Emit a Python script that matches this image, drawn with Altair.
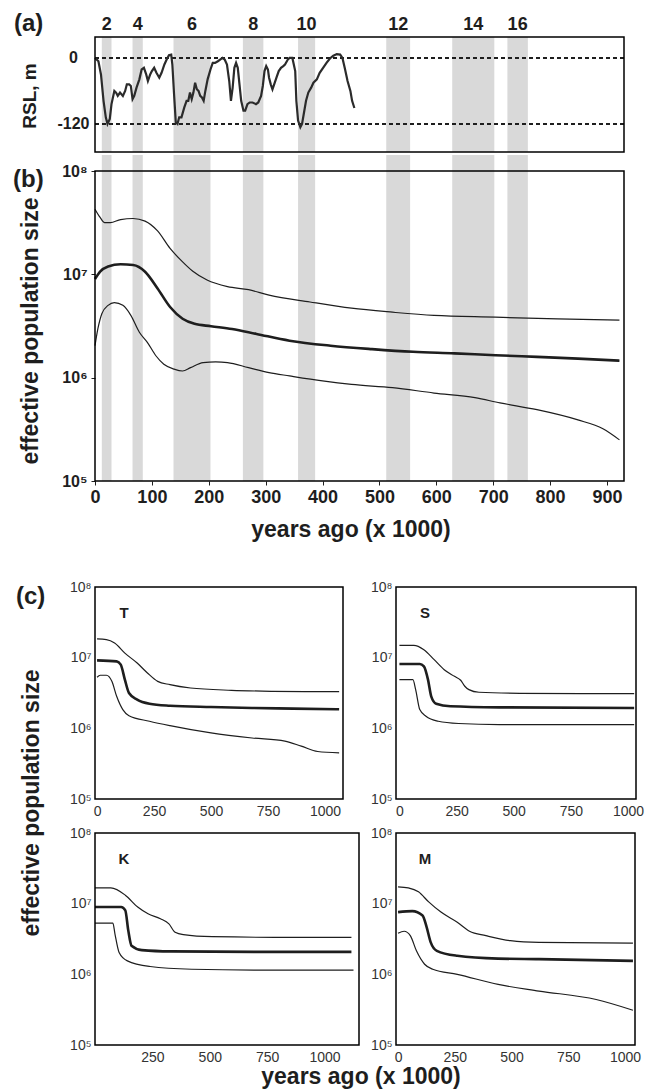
import altair as alt
import pandas as pd

# ---------------- data ----------------
band_start = [12, 66, 138, 260, 357, 512, 628, 725]
band_end = [29, 84, 203, 296, 387, 554, 702, 761]
stage_labels = ["2", "4", "6", "8", "10", "12", "14", "16"]

rsl_levels = [0, -120]
rsl_ka = [0, 6, 10.5, 15, 19, 22, 26, 29, 34, 37,
          40, 44, 49, 53, 56, 60, 63, 66, 69, 73,
          78, 82, 86, 90, 93, 97, 100, 104, 108, 113,
          117, 122, 126, 130, 134, 136, 139, 142, 145, 148,
          152, 157, 161, 164, 167, 170, 173, 176, 179, 182,
          185, 188, 191, 194, 198, 203, 207, 211, 216, 220,
          224, 228, 232, 236, 239, 242, 245, 248, 251, 254,
          257, 261, 264, 268, 272, 277, 283, 287, 292, 295,
          298, 301, 304, 306, 309, 312, 315, 319, 323, 327,
          331, 334, 339, 342, 347, 352, 354, 357, 361, 364,
          367, 371, 375, 380, 384, 390, 395, 401, 407, 413,
          419, 425, 431, 435, 439, 444, 449, 452, 456]
rsl_m = [0, -6, -30, -78, -108, -120, -111, -84, -60, -63,
         -69, -63, -69, -60, -48, -48, -51, -75, -69, -54,
         -39, -21, -18, -30, -42, -30, -24, -18, -27, -36,
         -27, -12, -3, 5, 6, -12, -66, -117, -120, -108,
         -108, -90, -78, -78, -63, -75, -63, -45, -57, -60,
         -69, -72, -78, -60, -39, -21, -9, -9, -6, -3,
         0, -3, -12, -42, -78, -54, -18, -9, -18, -48,
         -78, -96, -96, -84, -81, -81, -84, -81, -69, -51,
         -24, -15, -21, -36, -48, -57, -48, -36, -24, -18,
         -15, -12, -3, 0, 0, -24, -78, -114, -126, -120,
         -102, -78, -63, -54, -45, -39, -27, -18, -9, -1,
         4, 7, 6, 0, -18, -42, -60, -78, -91]

# panel (b): effective population size in millions
b_up_ka = [0, 9, 17, 27, 45, 67, 88, 110, 132, 154, 172, 197, 233, 270, 306, 378, 451, 523, 596, 704, 813, 922]
b_up_ne = [42.7, 35.5, 31.6, 31.6, 33.9, 34.7, 32.7, 26.3, 17.8, 13.2, 10.7, 8.8, 7.6, 7.1, 6.3, 5.4, 4.7, 4.3, 4.0, 3.85, 3.7, 3.6]
b_mid_ka = [0, 9, 23, 45, 67, 88, 110, 132, 154, 175, 204, 241, 284, 342, 414, 487, 559, 632, 704, 777, 849, 922]
b_mid_ne = [9.0, 10.6, 11.9, 12.5, 12.3, 10.6, 7.3, 4.83, 3.72, 3.32, 3.15, 2.96, 2.65, 2.28, 2.04, 1.89, 1.78, 1.72, 1.65, 1.59, 1.53, 1.46]
b_low_ka = [0, 5, 12, 23, 34, 49, 63, 78, 92, 107, 121, 139, 154, 168, 190, 212, 233, 270, 306, 342, 400, 451, 523, 596, 668, 712, 777, 849, 893, 922]
b_low_ne = [2.04, 2.96, 4.16, 5.01, 5.32, 5.01, 4.01, 2.75, 2.20, 1.63, 1.35, 1.21, 1.16, 1.25, 1.40, 1.42, 1.40, 1.25, 1.12, 1.04, 0.93, 0.86, 0.80, 0.71, 0.64, 0.57, 0.49, 0.39, 0.32, 0.25]

# panel (c)
t_up_ka = [0, 41, 77, 122, 176, 221, 266, 320, 410, 590, 770, 950, 1062]
t_up_ne = [18.4, 18.0, 16.1, 11.6, 8.4, 6.07, 4.62, 4.15, 3.72, 3.45, 3.34, 3.30, 3.30]
t_mid_ka = [0, 86, 104, 122, 140, 176, 230, 320, 500, 680, 860, 1062]
t_mid_ne = [9.16, 8.87, 7.96, 4.89, 3.16, 2.55, 2.23, 2.09, 2.00, 1.94, 1.90, 1.86]
t_low_ka = [0, 14, 41, 65, 86, 113, 140, 230, 320, 500, 680, 824, 896, 968, 1062]
t_low_ne = [5.28, 5.64, 5.64, 4.63, 2.84, 1.84, 1.51, 1.26, 1.09, 0.86, 0.73, 0.66, 0.56, 0.47, 0.45]

s_up_ka = [0, 63, 107, 152, 196, 241, 268, 286, 304, 348, 527, 795, 1027]
s_up_ne = [14.96, 14.96, 12.97, 9.38, 6.76, 5.44, 4.79, 3.94, 3.53, 3.24, 3.13, 3.10, 3.10]
s_mid_ka = [0, 89, 107, 125, 139, 161, 223, 437, 1027]
s_mid_ne = [8.15, 8.15, 7.55, 4.89, 2.84, 2.23, 2.05, 1.98, 1.94]
s_low_ka = [0, 59, 71, 89, 116, 170, 259, 437, 1027]
s_low_ne = [4.89, 4.89, 3.53, 1.84, 1.48, 1.26, 1.17, 1.13, 1.13]

k_up_ka = [0, 69, 132, 186, 231, 285, 322, 349, 385, 511, 782, 1117]
k_up_ne = [16.7, 16.7, 13.2, 8.95, 7.19, 6.11, 5.18, 3.94, 3.65, 3.41, 3.34, 3.34]
k_mid_ka = [0, 114, 132, 145, 159, 204, 331, 692, 1117]
k_mid_ne = [8.95, 8.95, 8.04, 4.16, 2.54, 2.20, 2.11, 2.08, 2.08]
k_low_ka = [0, 78, 87, 105, 141, 240, 421, 692, 1126]
k_low_ne = [5.30, 5.30, 3.72, 2.04, 1.55, 1.29, 1.18, 1.15, 1.15]

m_up_ka = [0, 45, 90, 135, 189, 261, 315, 387, 495, 621, 1035]
m_up_ne = [17.3, 16.7, 14.7, 10.6, 7.60, 5.47, 4.07, 3.53, 2.99, 2.83, 2.77]
m_mid_ka = [0, 63, 108, 126, 144, 171, 261, 441, 621, 1035]
m_mid_ne = [7.60, 7.85, 6.81, 4.65, 2.83, 2.15, 1.83, 1.67, 1.64, 1.55]
m_low_ka = [0, 27, 54, 81, 117, 153, 261, 441, 621, 873, 1035]
m_low_ne = [3.81, 4.07, 3.53, 2.15, 1.39, 1.18, 1.00, 0.72, 0.58, 0.44, 0.31]

b_ticks = [0, 100, 200, 300, 400, 500, 600, 700, 800, 900]
c_ticks_full = [0, 250, 500, 750, 1000]
c_ticks_k = [250, 500, 750, 1000]
ne_ticks = [1e5, 1e6, 1e7, 1e8]

# ---------------- styling ----------------
FONT = "Liberation Sans"
INK = "#1e1e1e"
BAND = "#d9d9d9"
THICK, THIN = 2.6, 1.2
LABEL_EXPR = "'10' + ['⁰','¹','²','³','⁴','⁵','⁶','⁷','⁸','⁹'][round(log(datum.value)/LN10)]"
ONE = alt.Data(values=[{}])


def series_df(parts):
    rows = []
    for name, xs, ys, w in parts:
        for x, y in zip(xs, ys):
            rows.append({"series": name, "ka": x, "ne": y * 1e6, "w": w})
    return pd.DataFrame(rows)


def text(t, x, y, size, weight="bold", angle=None, align="left", color=INK):
    kw = dict(text=t, font=FONT, fontSize=size, fontWeight=weight, color=color,
              align=align, baseline="middle")
    if angle is not None:
        kw["angle"] = angle
    return alt.Chart(ONE).mark_text(**kw).encode(x=alt.value(x), y=alt.value(y))


def frame(w, h):
    return alt.Chart(ONE).mark_rect(fillOpacity=0, stroke="black", strokeWidth=1.5).encode(
        x=alt.value(0), x2=alt.value(w), y=alt.value(0), y2=alt.value(h))


def spacer(x, y, x2=None, y2=None):
    enc = dict(x=alt.value(x), y=alt.value(y))
    if x2 is not None:
        enc["x2"] = alt.value(x2)
    if y2 is not None:
        enc["y2"] = alt.value(y2)
    return alt.Chart(ONE).mark_rule(color="white", strokeWidth=1).encode(**enc)


bands_df = pd.DataFrame({"start": band_start, "end": band_end, "stage": stage_labels})

# ---------------- panel (a) ----------------
WA, HA = 529, 115
xa = alt.Scale(domain=[0, 930], nice=False, zero=False)
ya = alt.Scale(domain=[-171, 38], nice=False, zero=False)
ya_axis = alt.Axis(values=rsl_levels, title=None, labelFont=FONT, labelFontWeight="bold",
                   labelFontSize=16, labelColor=INK, labelAlign="center", labelPadding=22,
                   labelExpr="toString(datum.value)",
                   tickSize=0, ticks=False, domain=False, grid=False)

a_bands = alt.Chart(bands_df).mark_rect(color=BAND).encode(
    x=alt.X("start:Q", scale=xa, axis=None), x2="end:Q",
    y=alt.value(0), y2=alt.value(HA))
a_levels = alt.Chart(pd.DataFrame({"level": rsl_levels})).mark_rule(
    color=INK, strokeWidth=2, strokeDash=[4, 3]).encode(
    y=alt.Y("level:Q", scale=ya, axis=ya_axis))
a_line = alt.Chart(pd.DataFrame({"ka": rsl_ka, "m": rsl_m})).mark_line(
    color="#2b2b2b", strokeWidth=2.2).encode(
    x=alt.X("ka:Q", scale=xa, axis=None),
    y=alt.Y("m:Q", scale=ya, axis=ya_axis))
a_stage = alt.Chart(bands_df).transform_calculate(
    mid="(datum.start + datum.end) / 2").mark_text(
    font=FONT, fontWeight="bold", fontSize=18, color=INK, baseline="middle").encode(
    x=alt.X("mid:Q", scale=xa, axis=None), y=alt.value(-12.5), text="stage:N")

panel_a = alt.layer(
    a_bands, a_levels, a_line, a_stage,
    text("(a)", -81, -13, 24),
    text("RSL, m", -65, 59, 19, angle=270, align="center"),
    spacer(-93, -36, y2=0),
    frame(WA, HA),
).properties(width=WA, height=HA)

# ---------------- panel (b) ----------------
WB, HB = 529, 310
xb = alt.Scale(domain=[0, 930], nice=False, zero=False)
yb = alt.Scale(type="log", domain=[1e5, 1e8], nice=False)
xb_axis = alt.Axis(values=b_ticks, title=None, labelFont=FONT, format="d",
                   labelFontWeight="bold", labelFontSize=18, labelColor=INK, tickSize=4,
                   tickColor=INK, labelPadding=3, domain=False, grid=False,
                   labelFlush=False, labelOverlap=False)
yb_axis = alt.Axis(values=ne_ticks, labelExpr=LABEL_EXPR, title=None, labelFont=FONT,
                   labelFontWeight="bold", labelFontSize=16, labelColor=INK, tickSize=4,
                   tickColor=INK, labelPadding=4, domain=False, grid=False,
                   labelOverlap=False)

b_df = series_df([("upper", b_up_ka, b_up_ne, THIN),
                  ("median", b_mid_ka, b_mid_ne, THICK),
                  ("lower", b_low_ka, b_low_ne, THIN)])

b_bands = alt.Chart(bands_df).mark_rect(color=BAND).encode(
    x=alt.X("start:Q", scale=xb, axis=xb_axis), x2="end:Q",
    y=alt.value(-16), y2=alt.value(HB))
b_lines = alt.Chart(b_df).mark_line(interpolate="monotone", color=INK).encode(
    x=alt.X("ka:Q", scale=xb, axis=xb_axis),
    y=alt.Y("ne:Q", scale=yb, axis=yb_axis),
    detail="series:N",
    strokeWidth=alt.StrokeWidth("w:Q", scale=None))

panel_b = alt.layer(
    b_bands, b_lines,
    text("(b)", -82, 8.5, 24),
    text("effective population size", -64, 160, 23, angle=270, align="center"),
    text("years ago (x 1000)", 256, 359, 23, align="center"),
    spacer(-94, 20, y2=30),
    spacer(0, 378, x2=10),
    frame(WB, HB),
).properties(width=WB, height=HB)

# ---------------- panel (c) ----------------
HC = 212


def sub_panel(letter, parts, width, xdomain, xticks, extra):
    df = series_df(parts)
    xs = alt.Scale(domain=xdomain, nice=False, zero=False)
    ys = alt.Scale(type="log", domain=[1e5, 1e8], nice=False)
    x_axis = alt.Axis(values=xticks, title=None, labelFont=FONT, labelFontSize=14, format="d",
                      labelColor="#333333", tickSize=0, ticks=False, labelPadding=5,
                      domain=False, grid=False, labelFlush=False, labelOverlap=False)
    y_axis = alt.Axis(values=ne_ticks, labelExpr=LABEL_EXPR, title=None, labelFont=FONT,
                      labelFontSize=14, labelColor="#333333", tickSize=0, ticks=False,
                      labelPadding=4, domain=False, grid=False, labelOverlap=False)
    lines = alt.Chart(df).mark_line(interpolate="monotone", color=INK).encode(
        x=alt.X("ka:Q", scale=xs, axis=x_axis),
        y=alt.Y("ne:Q", scale=ys, axis=y_axis),
        detail="series:N",
        strokeWidth=alt.StrokeWidth("w:Q", scale=None))
    return alt.layer(
        lines, text(letter, 29, 26, 15, align="center"), *extra, frame(width, HC)
    ).properties(width=width, height=HC)


panel_t = sub_panel("T", [("upper", t_up_ka, t_up_ne, THIN), ("median", t_mid_ka, t_mid_ne, THICK),
                          ("lower", t_low_ka, t_low_ne, THIN)],
                    248, [-9, 1079], c_ticks_full,
                    [text("(c)", -79, 10, 24), spacer(-91, -36, y2=-26)])
panel_s = sub_panel("S", [("upper", s_up_ka, s_up_ne, THIN), ("median", s_mid_ka, s_mid_ne, THICK),
                          ("lower", s_low_ka, s_low_ne, THIN)],
                    240, [-15, 1035], c_ticks_full, [])
panel_k = sub_panel("K", [("upper", k_up_ka, k_up_ne, THIN), ("median", k_mid_ka, k_mid_ne, THICK),
                          ("lower", k_low_ka, k_low_ne, THIN)],
                    264, [0, 1150], c_ticks_k,
                    [text("effective population size", -63, -30, 23, angle=270, align="center"),
                     text("years ago (x 1000)", 266, 244, 23, align="center")])
panel_m = sub_panel("M", [("upper", m_up_ka, m_up_ne, THIN), ("median", m_mid_ka, m_mid_ne, THICK),
                          ("lower", m_low_ka, m_low_ne, THIN)],
                    239, [-9, 1044], c_ticks_full, [])

panel_c = alt.concat(panel_t, panel_s, panel_k, panel_m, columns=2,
                     spacing={"row": 34, "column": 37}, bounds="flush")

chart = alt.vconcat(panel_a, panel_b, panel_c, spacing=0).properties(
    padding=0, background="white"
).configure_view(stroke="transparent")

chart.save("out.html", embed_options={"renderer": "svg", "actions": False})
